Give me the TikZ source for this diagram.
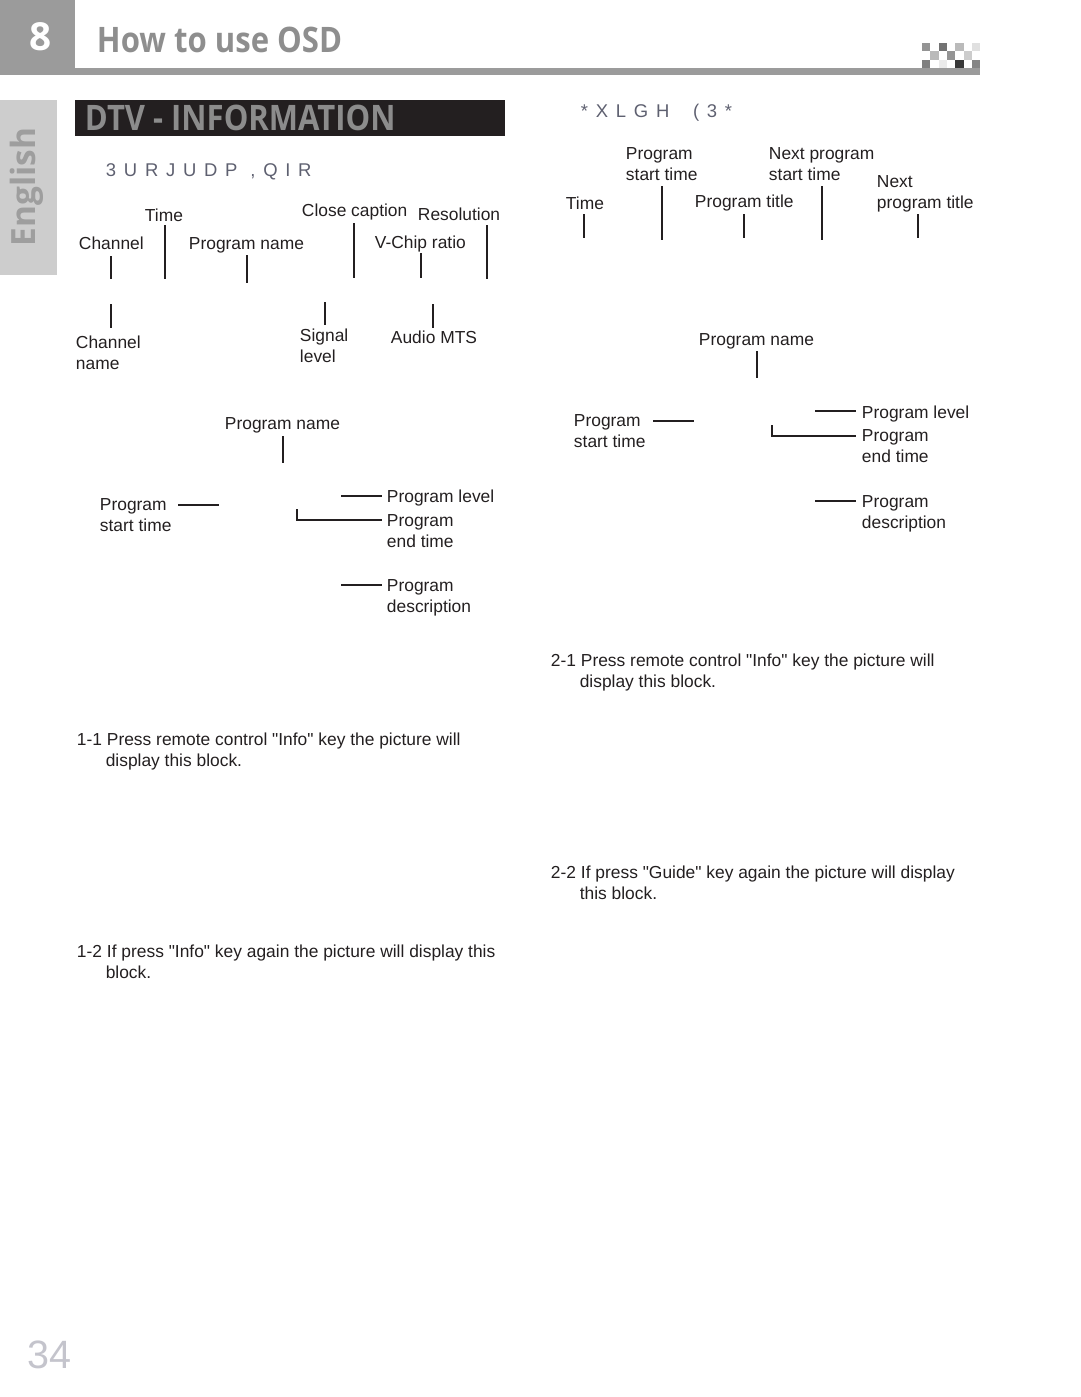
\documentclass[tikz,border=0pt]{standalone}
\usepackage{fontspec}
\setmainfont{Liberation Sans}[Ligatures=TeXOff]
\newfontfamily\headfont{Open Sans}
\usepackage{tikz}

\begin{document}
\begin{tikzpicture}[x=0.02cm, y=-0.02cm, font=\fontsize{9.9}{11.9}\selectfont, line width=1.1pt]
        % Define colors
        \definecolor{ink}{HTML}{231F20}
        \definecolor{boxgray}{HTML}{9B9B9B}
        \definecolor{titlegray}{HTML}{8E8E8E}
        \definecolor{tabgray}{HTML}{CDCDCD}
        \definecolor{codegray}{HTML}{5E6070}
        \definecolor{pagegray}{HTML}{C4C4CC}
        \tikzset{lbl/.style={anchor=north west, inner sep=0pt, align=left, text=ink},
                 lead/.style={draw=ink, line width=1.1pt},
                 code/.style={lbl, text=codegray, font=\fontsize{10.5}{12}\selectfont\addfontfeature{LetterSpace=42}}}

        \useasboundingbox (0,0) rectangle (1080,1397);

        % Header
        \fill[boxgray] (0,0) rectangle (75,75);
        \fill[boxgray] (75,68) rectangle (980,75);
        \node[text=white, font=\headfont\bfseries\fontsize{22}{22}\selectfont] (chapter) at (41,37) {8};
        \node[anchor=west, inner sep=0pt, text=titlegray, font=\headfont\bfseries\fontsize{20}{24}\selectfont] (title) at (96,40) {\scalebox{0.885}[1]{How to use OSD}};
        \foreach \i/\j/\c in {0/0/black!42, 2/0/black!55, 4/0/black!27, 6/0/black!12,
                              1/1/black!27, 3/1/black!42, 5/1/black!20,
                              0/2/black!50, 2/2/black!8, 4/2/black!78, 6/2/black!48} {
            \fill[\c] ({922+8.3*\i},{43+8.3*\j}) rectangle ++(8.3,8.3);
        }

        % Side tab and section bar
        \fill[tabgray] (0,100) rectangle (57,275);
        \node[rotate=90, text=black!38, font=\headfont\bfseries\fontsize{19}{19}\selectfont] (tab) at (27,187) {English};
        \fill[ink] (75,100) rectangle (505,136);
        \node[anchor=west, inner sep=0pt, text=black!45, font=\headfont\bfseries\fontsize{20}{24}\selectfont] (section) at (84,118) {\scalebox{0.883}[1]{DTV - INFORMATION}};

        % Sub headings
        \node[code] (secinfo) at (105,163) {3URJUDP ,QIR};
        \node[code] (secguide) at (580,103) {*XLGH\hspace{13.5pt}(3*};

        % Program info, first block
        \node[lbl] (ltime) at (144,208) {Time};
        \node[lbl] (lcc) at (301,203) {Close caption};
        \node[lbl] (lres) at (417,207) {Resolution};
        \node[lbl] (lchan) at (78,236) {Channel};
        \node[lbl] (lpname) at (188,237) {Program name};
        \node[lbl] (lvchip) at (374,235) {V-Chip ratio};
        \node[lbl] (lchname) at (75,335) {Channel\\name};
        \node[lbl] (lsignal) at (299,328) {Signal\\level};
        \node[lbl] (laudio) at (390,330) {Audio MTS};

        % Program info, second block
        \node[lbl] (mpname) at (224,417) {Program name};
        \node[lbl] (mstart) at (99,498) {Program\\start time};
        \node[lbl] (mlevel) at (386,489) {Program level};
        \node[lbl] (mend) at (386,514) {Program\\end time};
        \node[lbl] (mdesc) at (386,579) {Program\\description};

        % Guide EPG, first block
        \node[lbl] (rtime) at (565,196) {Time};
        \node[lbl] (rstart) at (625,147) {Program\\start time};
        \node[lbl] (rtitle) at (694,194) {Program title};
        \node[lbl] (rnstart) at (768,147) {Next program\\start time};
        \node[lbl] (rntitle) at (876,175) {Next\\program title};

        % Guide EPG, second block
        \node[lbl] (spname) at (698,333) {Program name};
        \node[lbl] (sstart) at (573,414) {Program\\start time};
        \node[lbl] (slevel) at (861,405) {Program level};
        \node[lbl] (send) at (861,429) {Program\\end time};
        \node[lbl] (sdesc) at (861,495) {Program\\description};

        % Leaders, vertical
        \foreach \n/\x/\ya/\yb in {lchan/111/256/279, ltime/165/225/279, lpname/247/255/283,
                                  lcc/354/223/278, lvchip/421/253/278, lres/487/225/279,
                                  lchname/111/304/328, lsignal/325/302/325, laudio/433/304/328,
                                  mpname/283/436/463, spname/757/351/378,
                                  rtime/584/214/238, rstart/662/186/240, rtitle/744/214/238,
                                  rnstart/822/186/240, rntitle/918/214/238} {
            \coordinate (\n-a) at (\x,\ya);
            \coordinate (\n-b) at (\x,\yb);
            \draw[lead] (\n-a) -- (\n-b);
        }

        % Leaders, horizontal
        \foreach \n/\xa/\xb/\y in {mstart/178/219/505, mlevel/341/382/496, mdesc/341/382/585,
                                  sstart/653/694/421, slevel/815/856/411, sdesc/815/856/501} {
            \coordinate (\n-a) at (\xa,\y);
            \coordinate (\n-b) at (\xb,\y);
            \draw[lead] (\n-a) -- (\n-b);
        }
        \coordinate (mend-a) at (297,509);
        \coordinate (mend-b) at (382,520);
        \draw[lead] (mend-a) |- (mend-b);
        \coordinate (send-a) at (772,425);
        \coordinate (send-b) at (856,436);
        \draw[lead] (send-a) |- (send-b);

        % Captions
        \node[lbl] (cap11) at (76,732) {1-1 Press remote control "Info" key the picture will\\\hspace*{16.4pt}display this block.};
        \node[lbl] (cap12) at (76,944) {1-2 If press "Info" key again the picture will display this\\\hspace*{16.4pt}block.};
        \node[lbl] (cap21) at (550,653) {2-1 Press remote control "Info" key the picture will\\\hspace*{16.4pt}display this block.};
        \node[lbl] (cap22) at (550,865) {2-2 If press "Guide" key again the picture will display\\\hspace*{16.4pt}this block.};

        % Page number
        \node[anchor=west, inner sep=0pt, text=pagegray, font=\fontsize{22.5}{24}\selectfont] (page) at (27,1355) {34};
    \end{tikzpicture}
\end{document}
